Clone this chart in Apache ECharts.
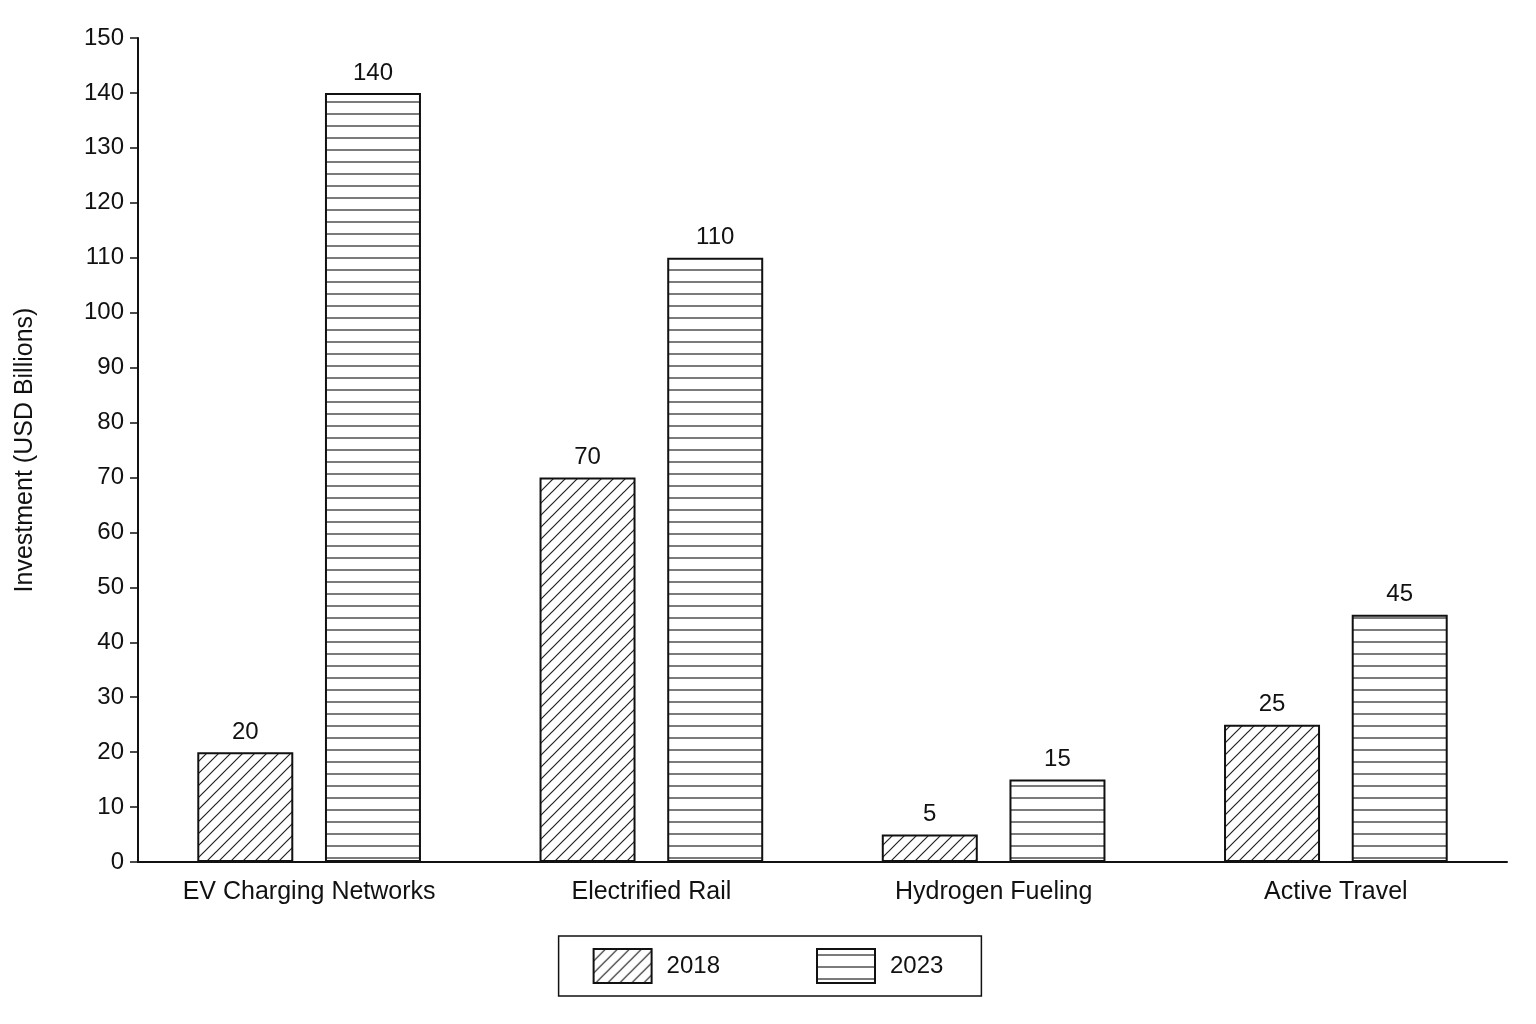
<!DOCTYPE html>
<html><head><meta charset="utf-8">
<script src="https://cdn.jsdelivr.net/npm/echarts@6/dist/echarts.min.js"></script>
<style>html,body{margin:0;background:#fff}#c{width:1536px;height:1024px}</style>
</head><body><div id="c"></div>
<script>
const categories = ["EV Charging Networks","Electrified Rail","Hydrogen Fueling","Active Travel"];
const seriesNames = ["2018","2023"];
const values2018 = [20,70,5,25];
const values2023 = [140,110,15,45];
const yTicks = {min:0,max:150,interval:10};

function diagPattern(){
  const c=document.createElement('canvas');c.width=12;c.height=12;
  const g=c.getContext('2d');g.fillStyle='#fff';g.fillRect(0,0,12,12);
  g.strokeStyle='#222';g.lineWidth=1.2;
  g.beginPath();
  g.moveTo(0,12);g.lineTo(12,0);
  g.moveTo(-6,6);g.lineTo(6,-6);
  g.moveTo(6,18);g.lineTo(18,6);
  g.stroke();
  return {image:c,repeat:'repeat'};
}
function horizPattern(){
  const c=document.createElement('canvas');c.width=12;c.height=12;
  const g=c.getContext('2d');g.fillStyle='#fff';g.fillRect(0,0,12,12);
  g.strokeStyle='#222';g.lineWidth=1.2;
  g.beginPath();g.moveTo(0,6);g.lineTo(12,6);g.stroke();
  return {image:c,repeat:'repeat'};
}
const font='"Liberation Sans", Arial, sans-serif';
const chart=echarts.init(document.getElementById('c'));
const lbl={show:true,position:'top',color:'#111',fontSize:24,fontFamily:font,distance:8};
chart.setOption({
  animation:false,
  backgroundColor:'#fff',
  grid:{left:138,right:29,top:38,bottom:162},
  legend:{
    data:seriesNames.map(n=>({name:n,icon:'rect'})),bottom:28,left:'center',
    itemWidth:58,itemHeight:34,itemGap:96,
    padding:[12,38,12,34],
    borderColor:'#111',borderWidth:1.5,
    textStyle:{fontSize:24,color:'#111',fontFamily:font,padding:[0,0,0,10]}
  },
  xAxis:{type:'category',data:categories,
    axisLine:{lineStyle:{color:'#111',width:2}},axisTick:{show:false},
    axisLabel:{fontSize:25,color:'#111',fontFamily:font,margin:18}},
  yAxis:{type:'value',min:yTicks.min,max:yTicks.max,interval:yTicks.interval,
    name:'Investment (USD Billions)',nameLocation:'middle',nameGap:100,
    nameTextStyle:{fontSize:25,color:'#111',fontFamily:font},
    splitLine:{show:false},
    axisLine:{show:true,lineStyle:{color:'#111',width:2}},
    axisTick:{show:true,length:8,lineStyle:{color:'#111',width:1.5}},
    axisLabel:{fontSize:24,color:'#111',fontFamily:font,margin:14}},
  series:[
    {name:seriesNames[0],type:'bar',data:values2018,barWidth:96,barGap:'33%',
     itemStyle:{color:diagPattern(),borderColor:'#111',borderWidth:2},label:lbl},
    {name:seriesNames[1],type:'bar',data:values2023,barWidth:96,
     itemStyle:{color:horizPattern(),borderColor:'#111',borderWidth:2},label:lbl}
  ]
});
</script></body></html>
